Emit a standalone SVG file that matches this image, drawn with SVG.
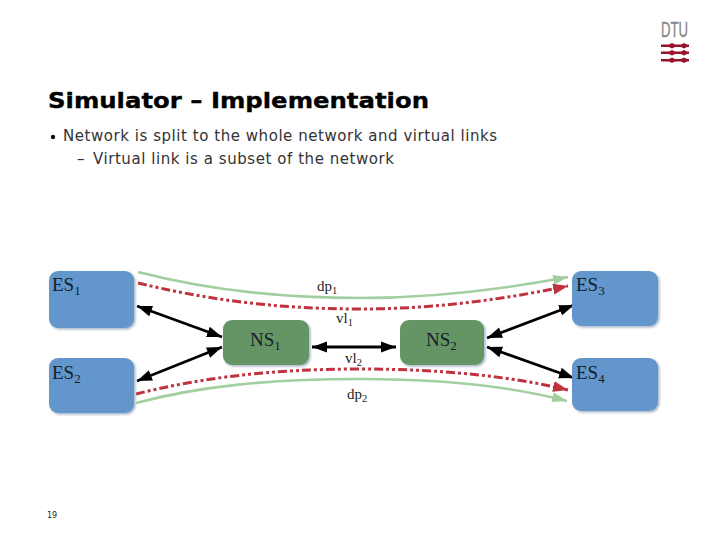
<svg xmlns="http://www.w3.org/2000/svg" width="720" height="540" viewBox="0 0 720 540">
<style>
.title{font:bold 22px "DejaVu Sans",Verdana,sans-serif;fill:#000;stroke:#000;stroke-width:.35}
.body{font:15px "DejaVu Sans",Verdana,sans-serif;fill:#333}
.num{font:8px "DejaVu Sans",sans-serif;fill:#222}
.lab{font:19px "Liberation Serif",serif;fill:#14202c}
.sub{font-size:13px}
.sm{font:15px "Liberation Serif",serif;fill:#222}
.sm2{font-size:10.500px}
.es{fill:#6497cb;filter:url(#sh)}
.ns{fill:#659565;filter:url(#sh)}
.bk{fill:none;stroke:#000;stroke-width:2.8;marker-start:url(#ab);marker-end:url(#ae)}
.gr{fill:none;stroke:#a3cfa0;stroke-width:2.6}
.rd{fill:none;stroke:#c0323f;stroke-width:3;stroke-dasharray:9 3 3 3 3 3}
.logo{fill:#99122e}
</style>
<defs>
<filter id="sh" x="-5%" y="-5%" width="115%" height="115%"><feDropShadow dx="1.500" dy="1.500" stdDeviation="1" flood-color="#a3b6c8"/></filter>
<marker id="ae" markerUnits="userSpaceOnUse" markerWidth="17" markerHeight="12" refX="15" refY="6" orient="auto"><path d="M0 0.500L15 6L0 11.500Z" fill="#000"/></marker>
<marker id="ab" markerUnits="userSpaceOnUse" markerWidth="17" markerHeight="12" refX="1" refY="6" orient="auto"><path d="M16 0.500L1 6L16 11.500Z" fill="#000"/></marker>
<marker id="ag" markerUnits="userSpaceOnUse" markerWidth="17" markerHeight="12" refX="15" refY="6" orient="auto"><path d="M0 1L15 6L0 11Z" fill="#a3cfa0"/></marker>
<marker id="ar" markerUnits="userSpaceOnUse" markerWidth="17" markerHeight="14" refX="15" refY="7" orient="auto"><path d="M0 1.500L15 7L0 12.500Z" fill="#c0323f"/></marker>
</defs>
<rect width="720" height="540" fill="#fff"/>
<g id="logo">
<text x="674.500" y="37" text-anchor="middle" font-family="Liberation Sans,sans-serif" font-size="22" fill="#8a8a8a" stroke="#8a8a8a" stroke-width=".4" textLength="27" lengthAdjust="spacingAndGlyphs">DTU</text>
<path class="logo" d="M661 44.500h8l3-1.500 3 1.500h6l3-1.500 3 1.500h2v2.500h-2l-3 1.500-3-1.500h-6l-3 1.500-3-1.500h-8z"/>
<path class="logo" d="M661 51.500h8l3-1.500 3 1.500h6l3-1.500 3 1.500h2v2.500h-2l-3 1.500-3-1.500h-6l-3 1.500-3-1.500h-8z"/>
<path class="logo" d="M661 59h8l3-1.500 3 1.500h6l3-1.500 3 1.500h2v2.500h-2l-3 1.500-3-1.500h-6l-3 1.500-3-1.500h-8z"/>
</g>
<text class="title" x="48" y="108" textLength="381" lengthAdjust="spacingAndGlyphs">Simulator – Implementation</text>
<circle cx="53" cy="137" r="2.200" fill="#111"/>
<text class="body" x="63" y="141" textLength="434">Network is split to the whole network and virtual links</text>
<text class="body" x="77" y="164">–</text>
<text class="body" x="93" y="164" textLength="301">Virtual link is a subset of the network</text>
<text class="num" x="47" y="518">19</text>
<g id="connectors">
<path class="gr" marker-end="url(#ag)" d="M138 272C200 288 270 298 360 298C440 298 510 288 568 277"/>
<path class="rd" marker-end="url(#ar)" d="M138 283C200 298 270 309 360 309C440 309 510 298 568 286"/>
<path class="rd" marker-end="url(#ar)" d="M136 394C200 378 270 369 360 369C440 369 510 376 568 390"/>
<path class="gr" marker-end="url(#ag)" d="M136 403C200 386 270 379 360 379C440 379 510 386 567 401"/>
<path class="bk" d="M137 306L222 337"/>
<path class="bk" d="M222 347L137 381"/>
<path class="bk" d="M312 347L396 347"/>
<path class="bk" d="M487 338L574 305"/>
<path class="bk" d="M487 347L574 378"/>
</g>
<g id="ES1"><rect class="es" x="49" y="271" width="85" height="57" rx="9"/><text class="lab" x="52" y="291">ES<tspan class="sub" dy="4">1</tspan></text></g>
<g id="ES2"><rect class="es" x="49" y="358" width="85" height="55" rx="9"/><text class="lab" x="52" y="379">ES<tspan class="sub" dy="4">2</tspan></text></g>
<g id="ES3"><rect class="es" x="572" y="271" width="86" height="55" rx="9"/><text class="lab" x="576" y="291">ES<tspan class="sub" dy="4">3</tspan></text></g>
<g id="ES4"><rect class="es" x="572" y="358" width="86" height="53" rx="9"/><text class="lab" x="576" y="379">ES<tspan class="sub" dy="4">4</tspan></text></g>
<g id="NS1"><rect class="ns" x="223" y="320" width="86" height="45" rx="9"/><text class="lab" x="250" y="346">NS<tspan class="sub" dy="4">1</tspan></text></g>
<g id="NS2"><rect class="ns" x="400" y="320" width="84" height="45" rx="9"/><text class="lab" x="426" y="346">NS<tspan class="sub" dy="4">2</tspan></text></g>
<text class="sm" x="317" y="291">dp<tspan class="sm2" dy="3">1</tspan></text>
<text class="sm" x="336" y="323">vl<tspan class="sm2" dy="3">1</tspan></text>
<text class="sm" x="345" y="363">vl<tspan class="sm2" dy="3">2</tspan></text>
<text class="sm" x="347" y="399">dp<tspan class="sm2" dy="3">2</tspan></text>
</svg>
